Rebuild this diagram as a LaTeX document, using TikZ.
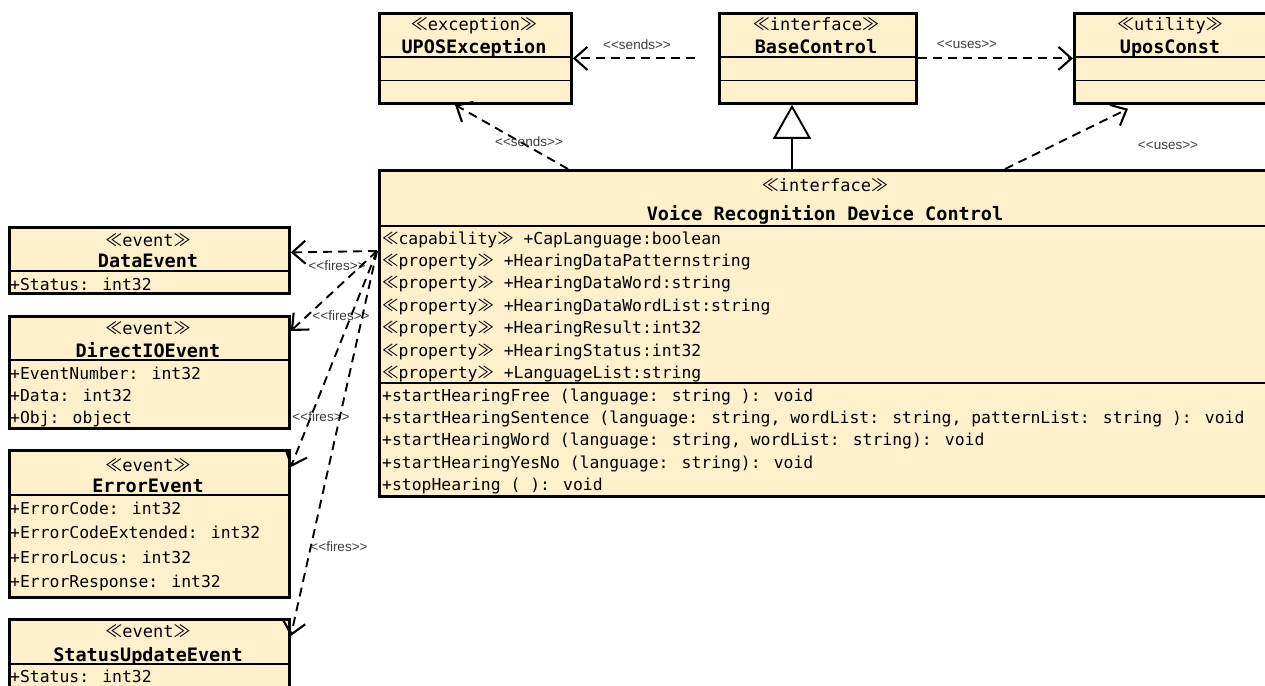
\documentclass[tikz,border=0pt]{standalone}
\usepackage{fontspec}
\setmainfont{DejaVu Sans Mono}
\newfontfamily\cjk{Noto Sans CJK JP}
\newfontfamily\lblfont{Liberation Sans}
\usetikzlibrary{%
  arrows.meta
}
\definecolor{umlfill}{RGB}{255,240,204}
\definecolor{lblgray}{RGB}{60,60,60}
\newcommand{\stp}[1]{{\cjk ≪}#1{\cjk ≫}}
\newcommand{\ltlt}{<\kern0pt<}
\newcommand{\gtgt}{>\kern0pt>}
\tikzset{
  classbox/.style={draw, line width=2.8pt, fill=umlfill, anchor=north west, inner sep=0pt},
  headsep/.style={line width=2.2pt},
  thinsep/.style={line width=0.9pt},
  stertext/.style={font=\fontsize{17}{20}\selectfont, anchor=base, inner sep=0pt},
  nametext/.style={font=\fontsize{18.5}{20}\selectfont\bfseries, anchor=base, inner sep=0pt},
  membtext/.style={font=\fontsize{16.4}{22.4}\selectfont, anchor=base west, align=left, inner sep=0pt},
  dep/.style={line width=1.9pt, dash pattern=on 9pt off 6pt,
    -{Straight Barb[length=13pt,width=23pt,line width=2.1pt]}},
  inh/.style={line width=1.9pt, -{Triangle[open,length=34pt,width=38pt,line width=1.9pt]}},
  lbl/.style={font=\lblfont\fontsize{13.5}{14}\selectfont, text=lblgray, inner sep=0pt},
}

\begin{document}
\begin{tikzpicture}[x=1pt,y=-1pt]
\useasboundingbox (0,0) rectangle (1265,685);
\clip (0,0) rectangle (1265,685);

%%% top classes
\node[classbox,minimum width=192pt,minimum height=90pt] (upos) at (378,12) {};
\draw[headsep] (upos.west |- 0,57) -- (upos.east |- 0,57);
\draw[thinsep] (upos.west |- 0,80) -- (upos.east |- 0,80);
\node[stertext] (uposSt) at (474,31) {\stp{exception}};
\node[nametext] (uposNm) at (474,54) {UPOSException};

\node[classbox,minimum width=197pt,minimum height=90pt] (base) at (718,12) {};
\draw[headsep] (base.west |- 0,57) -- (base.east |- 0,57);
\draw[thinsep] (base.west |- 0,80) -- (base.east |- 0,80);
\node[stertext] (baseSt) at (816,31) {\stp{interface}};
\node[nametext] (baseNm) at (816,54) {BaseControl};

\node[classbox,minimum width=197pt,minimum height=90pt] (util) at (1073,12) {};
\draw[headsep] (util.west |- 0,57) -- (util.east |- 0,57);
\draw[thinsep] (util.west |- 0,80) -- (util.east |- 0,80);
\node[stertext] (utilSt) at (1170,31) {\stp{utility}};
\node[nametext] (utilNm) at (1170,54) {UposConst};

%%% main interface
\node[classbox,minimum width=892pt,minimum height=326pt] (main) at (378,169) {};
\draw[headsep] (main.west |- 0,226) -- (main.east |- 0,226);
\draw[headsep] (main.west |- 0,383) -- (main.east |- 0,383);
\node[stertext] (mainSt) at (825,191) {\stp{interface}};
\node[nametext] (mainNm) at (825,220) {Voice Recognition Device Control};
% base anchor = last line
\node[membtext] (mainAttr) at (382,378.4) {\stp{capability} +CapLanguage:boolean\\
  \stp{property} +HearingDataPatternstring\\
  \stp{property} +HearingDataWord:string\\
  \stp{property} +HearingDataWordList:string\\
  \stp{property} +HearingResult:int32\\
  \stp{property} +HearingStatus:int32\\
  \stp{property} +LanguageList:string};
\node[membtext] (mainOp) at (382,490.6) {+startHearingFree (language: string ): void\\
  +startHearingSentence (language: string, wordList: string, patternList: string ): void\\
  +startHearingWord (language: string, wordList: string): void\\
  +startHearingYesNo (language: string): void\\
  +stopHearing ( ): void};

%%% events
\node[classbox,minimum width=280pt,minimum height=66pt] (dataEv) at (8,226) {};
\draw[headsep] (dataEv.west |- 0,271) -- (dataEv.east |- 0,271);
\node[stertext] (dataSt) at (148,246) {\stp{event}};
\node[nametext] (dataNm) at (148,267) {DataEvent};
\node[membtext] (dataAttr) at (10,290) {+Status: int32};

\node[classbox,minimum width=280pt,minimum height=112pt] (dioEv) at (8,315) {};
\draw[headsep] (dioEv.west |- 0,360) -- (dioEv.east |- 0,360);
\node[stertext] (dioSt) at (148,334) {\stp{event}};
\node[nametext] (dioNm) at (148,357) {DirectIOEvent};
\node[membtext,font=\fontsize{16.4}{22}\selectfont] (dioAttr) at (10,423) {+EventNumber: int32\\
  +Data: int32\\
  +Obj: object};

\node[classbox,minimum width=280pt,minimum height=147pt] (errEv) at (8,449) {};
\draw[headsep] (errEv.west |- 0,495) -- (errEv.east |- 0,495);
\node[stertext] (errSt) at (148,471) {\stp{event}};
\node[nametext] (errNm) at (148,492) {ErrorEvent};
\node[membtext,font=\fontsize{16.4}{24.5}\selectfont] (errAttr) at (10,587.5) {+ErrorCode: int32\\
  +ErrorCodeExtended: int32\\
  +ErrorLocus: int32\\
  +ErrorResponse: int32};

\node[classbox,minimum width=280pt,minimum height=90pt] (sueEv) at (8,618) {};
\draw[headsep] (sueEv.west |- 0,664) -- (sueEv.east |- 0,664);
\node[stertext] (sueSt) at (148,637) {\stp{event}};
\node[nametext] (sueNm) at (148,661) {StatusUpdateEvent};
\node[membtext] (sueAttr) at (10,682) {+Status: int32};

%%% generalization
\coordinate (inhx) at (792,0);
\draw[inh] (main.north -| inhx) -- (base.south -| inhx);

%%% sends / uses
\draw[dep] ([xshift=-23pt]base.west) -- (upos.east);
\node[lbl] (lSendsA) at (637,45) {\ltlt sends\gtgt};
\draw[dep] (base.east) -- (util.west);
\node[lbl] (lUsesA) at (967,45) {\ltlt uses\gtgt};
\draw[dep] ([xshift=190pt]main.north west) -- ([xshift=77pt]upos.south west);
\node[lbl] (lSendsB) at (529,142) {\ltlt sends\gtgt};
\draw[dep] ([xshift=627pt]main.north west) -- ([xshift=55pt,yshift=-4pt]util.south west);
\node[lbl] (lUsesB) at (1168,146) {\ltlt uses\gtgt};

%%% fires
\coordinate (fsrc) at (377,251);
\draw[dep] (fsrc) -- ([yshift=8pt]dataEv.east);
\node[lbl] (lFiresA) at (337,266) {\ltlt fires\gtgt};
\draw[dep] (fsrc) -- ([yshift=-16pt]dioEv.north east);
\node[lbl] (lFiresB) at (341,316) {\ltlt fires\gtgt};
\draw[dep] (fsrc) -- ([yshift=-18pt]errEv.north east);
\node[lbl] (lFiresC) at (321,417) {\ltlt fires\gtgt};
\draw[dep] (fsrc) -- ([yshift=-18pt]sueEv.north east);
\node[lbl] (lFiresD) at (339,547) {\ltlt fires\gtgt};

\end{tikzpicture}
\end{document}
